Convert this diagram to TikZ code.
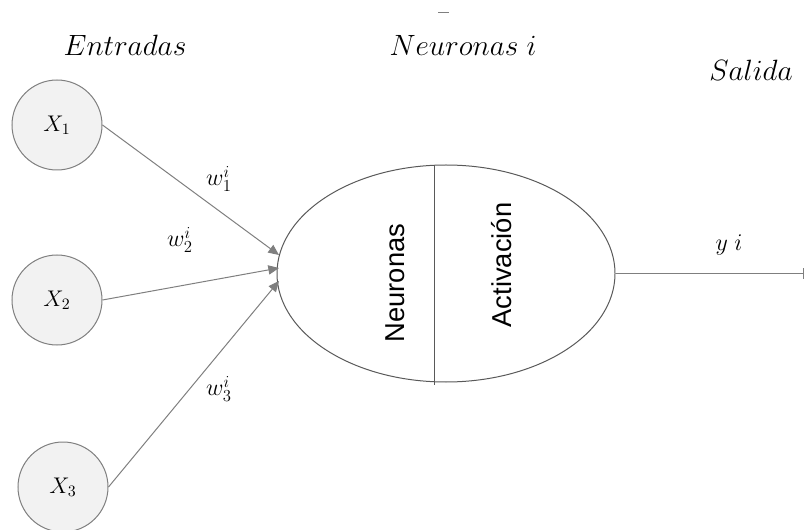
\documentclass[tikz,border=0pt]{standalone}
\usepackage{fix-cm}
\usepackage{fontspec}
\newfontfamily\arialfont{Liberation Sans}
\usetikzlibrary{arrows.meta,shapes.geometric}
\definecolor{linegray}{HTML}{7F7F7F}
\definecolor{fillgray}{HTML}{F2F2F2}
\definecolor{ovalgray}{HTML}{595959}
\begin{document}
\begin{tikzpicture}[x=0.75pt,y=-0.75pt,
	entrada/.style={circle,draw=linegray,fill=fillgray,line width=0.75pt,minimum size=67.5pt,inner sep=0pt,font=\fontsize{17}{20}\selectfont},
	peso/.style={-{Triangle[length=8pt,width=7pt]},draw=linegray,line width=0.75pt},
	rotulo/.style={font=\fontsize{22}{26}\selectfont},
	mathlbl/.style={font=\fontsize{18}{21}\selectfont},
	caja/.style={font=\arialfont\fontsize{20.5}{24}\selectfont,rotate=90}]
	\useasboundingbox (0,0) rectangle (805,530);
	%\draw[red] (0,0) rectangle (805,530);
	\node[entrada] (x1) at (57,125) {$X_1$};
	\node[entrada] (x2) at (57,300) {$X_2$};
	\node[entrada] (x3) at (63,487) {$X_3$};
	\node[ellipse,draw=ovalgray,line width=0.75pt,minimum width=253.5pt,minimum height=162.75pt,inner sep=0pt] (neurona) at (446,273.5) {};
	\coordinate (dtop) at (434,165);
	\coordinate (dbot) at (434,385);
	\coordinate (in1) at (279,255);
	\coordinate (in2) at (279,268);
	\coordinate (in3) at (279,281);
	\coordinate (out) at (804,273.5);
	\draw [draw=ovalgray,line width=0.75pt] (dtop) to (dbot);
	\draw [peso] (x1.east) to (in1);
	\draw [peso] (x2.east) to (in2);
	\draw [peso] (x3.east) to (in3);
	\draw [draw=linegray,line width=0.75pt,-{Bar[width=8pt]}] (neurona.east) to (out);
	\node[caja] (neu) at (395,283) {Neuronas};
	\node[caja] (act) at (502,265) {Activación};
	\node[rotulo] (ent) at (125,45) {$Entradas$};
	\node[rotulo] (neui) at (463,45) {$Neuronas\;i$};
	\node[rotulo] (sal) at (751,70) {$Salida$};
	\node[mathlbl] (w1) at (219,179) {$w_1^i$};
	\node[mathlbl] (w2) at (180,240) {$w_2^i$};
	\node[mathlbl] (w3) at (219,389) {$w_3^i$};
	\node[mathlbl] (yi) at (729,245) {$y\;i$};
	\draw [draw=linegray,line width=0.75pt] (438,13) to (449,13);
\end{tikzpicture}
\end{document}
